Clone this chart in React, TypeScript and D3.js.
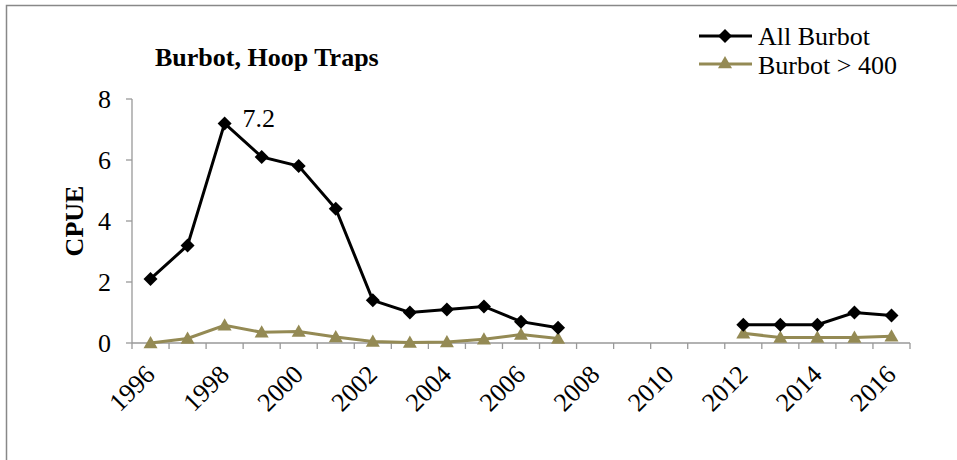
import React from "react";
import * as d3 from "d3";

const years: number[] = d3.range(1996, 2017);
const allBurbot: (number | null)[] = [2.1, 3.2, 7.2, 6.1, 5.8, 4.4, 1.4, 1.0, 1.1, 1.2, 0.7, 0.5, null, null, null, null, 0.6, 0.6, 0.6, 1.0, 0.9];
const burbot400: (number | null)[] = [0.0, 0.15, 0.58, 0.35, 0.38, 0.2, 0.05, 0.02, 0.03, 0.12, 0.28, 0.15, null, null, null, null, 0.32, 0.18, 0.18, 0.18, 0.22];
const yTicks: number[] = [0, 2, 4, 6, 8];
const xLabelYears: number[] = years.filter((y) => (y - 1996) % 2 === 0);

const W = 957, H = 460;
const left = 132, right = 910, top = 99, bottom = 343;
const FONT = "'Times New Roman', 'Liberation Serif', serif";
const OLIVE = "#948A54";
const ts = { fontFamily: FONT } as React.CSSProperties;
const FS = 26;

export default function App() {
  const x = d3.scaleBand<number>().domain(years).range([left, right]).paddingInner(0).paddingOuter(0);
  const y = d3.scaleLinear().domain([0, 8]).range([bottom, top]);
  const cx = (yr: number) => (x(yr) as number) + x.bandwidth() / 2;

  const line = d3
    .line<[number, number | null]>()
    .defined((d) => d[1] !== null)
    .x((d) => cx(d[0]))
    .y((d) => y(d[1] as number));

  const allPts = years.map((yr, i) => [yr, allBurbot[i]] as [number, number | null]);
  const p400 = years.map((yr, i) => [yr, burbot400[i]] as [number, number | null]);

  const diamond = (px: number, py: number, r = 7) => `M${px},${py - r}L${px + r},${py}L${px},${py + r}L${px - r},${py}Z`;
  const tri = (px: number, py: number, r = 7) => `M${px},${py - r}L${px + r},${py + r * 0.75}L${px - r},${py + r * 0.75}Z`;

  const boundaries = years.map((yr) => x(yr) as number).concat([right]);

  return (
    <svg width={W} height={H} style={{ position: "absolute", left: 0, top: 0, background: "#fff" }}>
      <rect x={0} y={0} width={W} height={H} fill="#fff" />
      <path d={`M6.5,${H + 5}L6.5,5.5L${W + 5},5.5`} fill="none" stroke="#888" strokeWidth={1.5} />

      <text x={155} y={66} fontSize={FS} fontWeight="bold" fill="#000" style={ts}>Burbot, Hoop Traps</text>

      {/* axes */}
      <line x1={left} x2={left} y1={top} y2={bottom} stroke="#999" strokeWidth={1.3} />
      <line x1={left} x2={right} y1={bottom} y2={bottom} stroke="#999" strokeWidth={1.3} />
      {yTicks.map((t) => (
        <g key={t}>
          <line x1={left - 6} x2={left} y1={y(t)} y2={y(t)} stroke="#999" strokeWidth={1.3} />
          <text x={111} y={y(t) + 9} fontSize={FS} textAnchor="end" fill="#000" style={ts}>{t}</text>
        </g>
      ))}
      {boundaries.map((b, i) => (
        <line key={i} x1={b} x2={b} y1={bottom} y2={bottom + 6} stroke="#999" strokeWidth={1.3} />
      ))}
      {xLabelYears.map((yr) => (
        <text key={yr} transform={`translate(${cx(yr) + 6},${bottom + 33}) rotate(-45)`} fontSize={FS} textAnchor="end" fill="#000" style={ts}>
          {yr}
        </text>
      ))}
      <text transform={`translate(83,${(top + bottom) / 2}) rotate(-90)`} fontSize={FS} fontWeight="bold" textAnchor="middle" fill="#000" style={ts}>CPUE</text>

      {/* series */}
      <path d={line(p400) || ""} fill="none" stroke={OLIVE} strokeWidth={3} />
      {p400.filter((d) => d[1] !== null).map((d) => (
        <path key={d[0]} d={tri(cx(d[0]), y(d[1] as number))} fill={OLIVE} />
      ))}
      <path d={line(allPts) || ""} fill="none" stroke="#000" strokeWidth={3} />
      {allPts.filter((d) => d[1] !== null).map((d) => (
        <path key={d[0]} d={diamond(cx(d[0]), y(d[1] as number))} fill="#000" />
      ))}
      <text x={cx(1998) + 18} y={y(7.2) + 4} fontSize={FS} fill="#000" style={ts}>7.2</text>

      {/* legend */}
      <line x1={699} x2={752} y1={36} y2={36} stroke="#000" strokeWidth={3} />
      <path d={diamond(725, 36)} fill="#000" />
      <text x={758} y={45} fontSize={FS} fill="#000" style={ts}>All Burbot</text>
      <line x1={699} x2={752} y1={64} y2={64} stroke={OLIVE} strokeWidth={3} />
      <path d={tri(725, 63)} fill={OLIVE} />
      <text x={758} y={74} fontSize={FS} fill="#000" style={ts}>Burbot &gt; 400</text>
    </svg>
  );
}
